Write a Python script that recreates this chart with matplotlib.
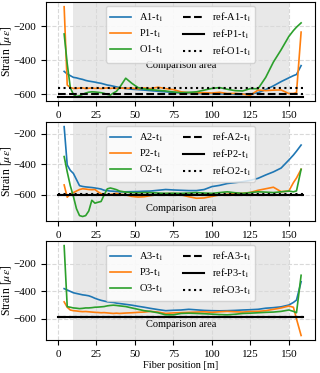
import numpy as np
import matplotlib
matplotlib.use('Agg')
from matplotlib import pyplot as plt

plt.rcParams['font.family'] = ['Liberation Serif', 'DejaVu Serif']
plt.rcParams['mathtext.fontset'] = 'stix'
plt.rcParams['font.size'] = 8

# fiber positions [m]
pos = [4, 6, 8, 10, 12, 14, 16, 18, 20, 22, 24, 26, 28, 30, 32, 34, 36, 38, 40, 44,
       48, 52, 56, 60, 65, 70, 75, 80, 85, 90, 95, 100, 105, 110, 115, 120, 125,
       130, 135, 140, 145, 150, 153, 155, 158]

# panel 1
A1 = [-465, -480, -490, -500, -503, -508, -512, -518, -522, -525, -528, -532, -535, -540, -545,
      -548, -552, -556, -560, -565, -570, -572, -575, -578, -582, -585, -588, -592, -594,
      -595, -596, -595, -597, -598, -600, -600, -598, -590, -572, -550, -525, -503, -490, -483, -431]
P1 = [-85, -545, -560, -565, -565, -563, -562, -566, -564, -562, -565, -563, -566, -564, -562,
      -565, -563, -566, -562, -565, -563, -568, -562, -566, -558, -566, -572, -585, -590,
      -592, -590, -592, -588, -595, -594, -598, -605, -575, -578, -575, -574, -595, -595, -590, -234]
O1 = [-245, -420, -560, -600, -613, -608, -600, -592, -587, -585, -586, -588, -590, -594, -600,
      -604, -592, -582, -560, -505, -535, -560, -568, -572, -576, -580, -586, -590, -588,
      -585, -575, -565, -560, -570, -578, -580, -566, -567, -500, -410, -338, -260, -225, -205, -180]
refA1 = -595
refP1 = -613
refO1 = -562

# panel 2
A2 = [-155, -405, -440, -460, -500, -540, -545, -548, -550, -552, -555, -558, -562, -570, -572,
      -575, -576, -578, -580, -580, -579, -578, -576, -575, -570, -565, -568, -570, -572,
      -572, -565, -546, -538, -526, -520, -514, -505, -492, -470, -450, -425, -373, -340, -315, -275]
P2 = [-535, -615, -595, -585, -575, -565, -560, -562, -565, -566, -565, -580, -592, -596, -600,
      -598, -594, -590, -595, -600, -610, -614, -612, -605, -598, -592, -592, -600, -612,
      -622, -620, -610, -600, -596, -592, -590, -584, -570, -560, -550, -579, -575, -520, -490, -433]
O2 = [-350, -450, -540, -610, -690, -735, -741, -735, -705, -635, -654, -648, -643, -600, -561,
      -555, -560, -566, -575, -582, -585, -586, -585, -585, -588, -590, -589, -590, -588,
      -585, -588, -590, -585, -580, -586, -590, -585, -580, -582, -585, -580, -575, -580, -574, -433]
refA2 = -598
refP2 = -602
refO2 = -594

# panel 3
A3 = [-380, -390, -400, -410, -415, -420, -425, -428, -432, -440, -450, -458, -465, -470, -475,
      -478, -480, -485, -488, -494, -500, -508, -515, -523, -532, -540, -537, -535, -530,
      -534, -538, -540, -541, -540, -538, -535, -533, -530, -522, -518, -512, -499, -480, -463, -330]
P3 = [-476, -515, -535, -540, -542, -545, -547, -546, -548, -550, -552, -553, -555, -554, -556,
      -558, -560, -558, -560, -557, -555, -552, -550, -545, -550, -560, -556, -554, -552,
      -550, -548, -552, -548, -545, -548, -550, -546, -545, -540, -530, -520, -506, -515, -600, -720]
O3 = [-68, -511, -515, -520, -522, -525, -523, -520, -520, -518, -515, -514, -512, -510, -505,
      -502, -500, -502, -505, -510, -520, -530, -540, -545, -555, -570, -570, -560, -558,
      -560, -562, -565, -568, -570, -566, -560, -558, -555, -552, -550, -545, -535, -545, -555, -283]
refA3 = -585
refP3 = -588
refO3 = -586

ref_x = [0, 159]

panels = [
    ('1', A1, P1, O1, refA1, refP1, refO1, -433),
    ('2', A2, P2, O2, refA2, refP2, refO2, -686),
    ('3', A3, P3, O3, refA3, refP3, refO3, -638),
]

fig = plt.figure(figsize=(3.2, 3.73), dpi=100)
bottoms = [0.729, 0.4075, 0.0885]

for i, (n, a, p, o, ra, rp, ro, txt_y) in enumerate(panels):
    ax = fig.add_axes([0.143, bottoms[i], 0.841, 0.265])
    ax.axvspan(10, 150, color='#e8e8e8', zorder=0, lw=0)
    ax.grid(True, ls='--', color='#d9d9d9', lw=0.8, zorder=1)
    ax.set_axisbelow(True)
    ax.plot(pos, a, color='tab:blue', lw=1.2, label='A%s-t$_1$' % n)
    ax.plot(pos, p, color='tab:orange', lw=1.2, label='P%s-t$_1$' % n)
    ax.plot(pos, o, color='tab:green', lw=1.2, label='O%s-t$_1$' % n)
    ax.plot(ref_x, [ra, ra], color='black', ls='--', lw=1.5, label='ref-A%s-t$_1$' % n)
    ax.plot(ref_x, [rp, rp], color='black', ls='-', lw=1.5, label='ref-P%s-t$_1$' % n)
    ax.plot(ref_x, [ro, ro], color='black', ls=':', lw=1.5, label='ref-O%s-t$_1$' % n)
    ax.text(80, txt_y, 'Comparison area', ha='center', va='center', fontsize=7.5)
    ax.set_xticks([0, 25, 50, 75, 100, 125, 150])
    ax.set_yticks([-200, -400, -600])
    ax.tick_params(labelsize=8)
    ax.set_ylabel(r'Strain [$\mu\varepsilon$]', fontsize=8.5)
    ax.yaxis.set_label_coords(-0.119, 0.5)
    ax.legend(loc='upper center', ncol=2, fontsize=7.5, columnspacing=1.9,
              labelspacing=0.35, borderaxespad=0.4)
    if i == 2:
        ax.set_xlabel('Fiber position [m]', fontsize=7.5, labelpad=2)

fig.savefig('out.png', dpi=100)
